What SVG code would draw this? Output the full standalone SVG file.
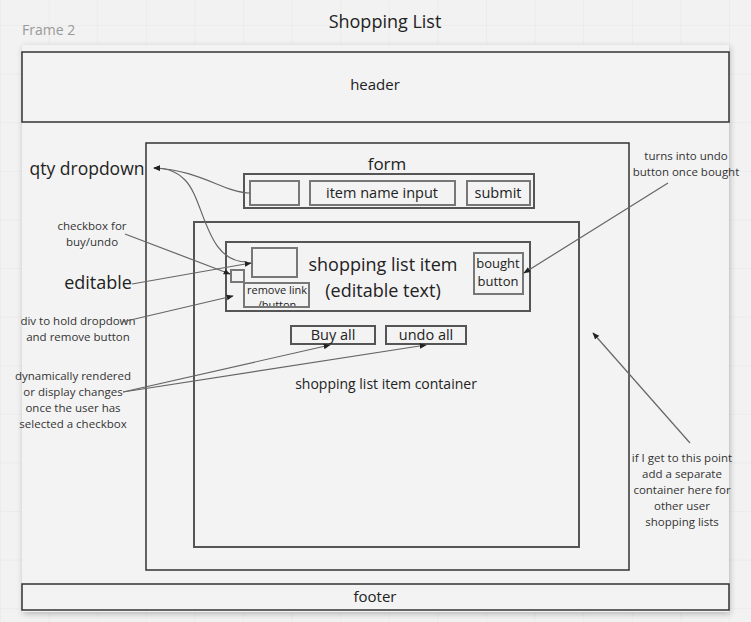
<svg xmlns="http://www.w3.org/2000/svg" width="751" height="622" viewBox="0 0 751 622">
<defs>
<pattern id="grid" x="0" y="25" width="48.6" height="48.6" patternUnits="userSpaceOnUse">
<path d="M 0 0 H 48.6 M 0 0 V 48.6" fill="none" stroke="#e6e6e6" stroke-width="1"/>
</pattern>
<filter id="sh" x="-5%" y="-5%" width="110%" height="110%">
<feGaussianBlur in="SourceAlpha" stdDeviation="3"/>
<feOffset dx="1" dy="2"/>
<feComponentTransfer><feFuncA type="linear" slope="0.25"/></feComponentTransfer>
<feMerge><feMergeNode/><feMergeNode in="SourceGraphic"/></feMerge>
</filter>
<clipPath id="rmclip"><rect x="245" y="284" width="63" height="22"/></clipPath>
<marker id="ah" viewBox="0 0 10 10" refX="9" refY="5" markerWidth="7" markerHeight="7" orient="auto-start-reverse" markerUnits="userSpaceOnUse">
<path d="M0,1 L10,5 L0,9 z" fill="#222"/>
</marker>
</defs>
<style>
text{font-family:"Open Sans","Noto Sans","Liberation Sans",sans-serif;fill:#222;text-anchor:middle}
.box{fill:none;stroke:#333;stroke-width:1.5}
.ibox{fill:none;stroke:#555;stroke-width:2}
.gbox{fill:none;stroke:#777;stroke-width:2}
.conn{fill:none;stroke:#666;stroke-width:1.2;marker-end:url(#ah)}
.ann{font-size:11.5px;fill:#333}
.lbl{font-size:14.5px}
.big{font-size:18px}
</style>
<rect x="0" y="0" width="751" height="622" fill="#f2f2f2"/>
<rect x="0" y="0" width="751" height="622" fill="url(#grid)"/>
<text x="22" y="35" style="font-size:14px;fill:#999;text-anchor:start">Frame 2</text>
<text x="385" y="28" style="font-size:18px">Shopping List</text>
<g id="frame"><rect x="22" y="45" width="707" height="567" fill="#f3f3f3" filter="url(#sh)"/></g>
<g id="header"><rect class="box" x="22" y="52" width="707" height="70"/><text x="375" y="90" style="font-size:15px">header</text></g>
<g id="form-outer"><rect class="box" x="146" y="143" width="483" height="427"/><text x="387" y="170" style="font-size:17px">form</text></g>
<g id="form-row"><rect class="ibox" x="244" y="174" width="290" height="34"/></g>
<g id="qty-input"><rect class="gbox" x="250" y="181" width="49" height="24"/></g>
<g id="item-name-input"><rect class="gbox" x="310" y="181" width="145" height="24"/><text class="lbl" x="382" y="198">item name input</text></g>
<g id="submit"><rect class="gbox" x="467" y="181" width="63" height="24"/><text class="lbl" x="498" y="198">submit</text></g>
<g id="list-container"><rect class="ibox" x="194" y="222" width="385" height="325"/><text x="386" y="389" style="font-size:14px">shopping list item container</text></g>
<g id="list-item"><rect class="ibox" x="226" y="242" width="304" height="69"/><text class="big" x="383" y="271">shopping list item</text><text class="big" x="383" y="297">(editable text)</text></g>
<g id="dropdown"><rect class="gbox" x="252" y="248" width="45" height="29"/></g>
<g id="checkbox"><rect class="gbox" x="231" y="270" width="13" height="12"/></g>
<g id="remove"><rect class="gbox" x="244" y="283" width="65" height="24"/><g clip-path="url(#rmclip)"><text x="277" y="294" style="font-size:11px">remove link</text><text x="277" y="309" style="font-size:11px">/button</text></g></g>
<g id="bought"><rect class="gbox" x="474" y="253" width="49" height="41"/><text x="498" y="268" style="font-size:13px">bought</text><text x="498" y="286" style="font-size:13px">button</text></g>
<g id="buy-all"><rect class="ibox" x="291" y="326" width="84" height="18"/><text class="lbl" x="333" y="340">Buy all</text></g>
<g id="undo-all"><rect class="ibox" x="386" y="326" width="80" height="18"/><text class="lbl" x="426" y="340">undo all</text></g>
<g id="footer"><rect class="box" x="22" y="584" width="707" height="26"/><text x="375" y="602" style="font-size:15px">footer</text></g>
<g id="ann-qty"><text x="87" y="175" style="font-size:17.5px">qty dropdown</text></g>
<g id="ann-checkbox"><text class="ann" x="92" y="230">checkbox for</text><text class="ann" x="92" y="246">buy/undo</text></g>
<g id="ann-editable"><text x="98" y="289" style="font-size:18px">editable</text></g>
<g id="ann-div"><text class="ann" x="78" y="325">div to hold dropdown</text><text class="ann" x="78" y="341">and remove button</text></g>
<g id="ann-dyn"><text class="ann" x="73" y="380">dynamically rendered</text><text class="ann" x="73" y="396">or display changes</text><text class="ann" x="73" y="412">once the user has</text><text class="ann" x="73" y="428">selected a checkbox</text></g>
<g id="ann-turns"><text class="ann" x="686" y="160">turns into undo</text><text class="ann" x="686" y="176">button once bought</text></g>
<g id="ann-if"><text class="ann" x="682" y="462">if I get to this point</text><text class="ann" x="682" y="478">add a separate</text><text class="ann" x="682" y="494">container here for</text><text class="ann" x="682" y="510">other user</text><text class="ann" x="682" y="526">shopping lists</text></g>
<g id="connectors">
<path class="conn" d="M250,193 C225,193 200,170 154,168"/>
<path class="conn" d="M247,262 C205,262 205,200 185,180 C175,170 165,168 154,168"/>
<path class="conn" d="M125,234 L230,274"/>
<path class="conn" d="M132,284 L251,263"/>
<path class="conn" d="M122,322 L233,296"/>
<path class="conn" d="M123,392 L330,345"/>
<path class="conn" d="M123,392 L426,345"/>
<path class="conn" d="M668,183 L524,273"/>
<path class="conn" d="M690,443 L593,333"/>
</g>
</svg>
